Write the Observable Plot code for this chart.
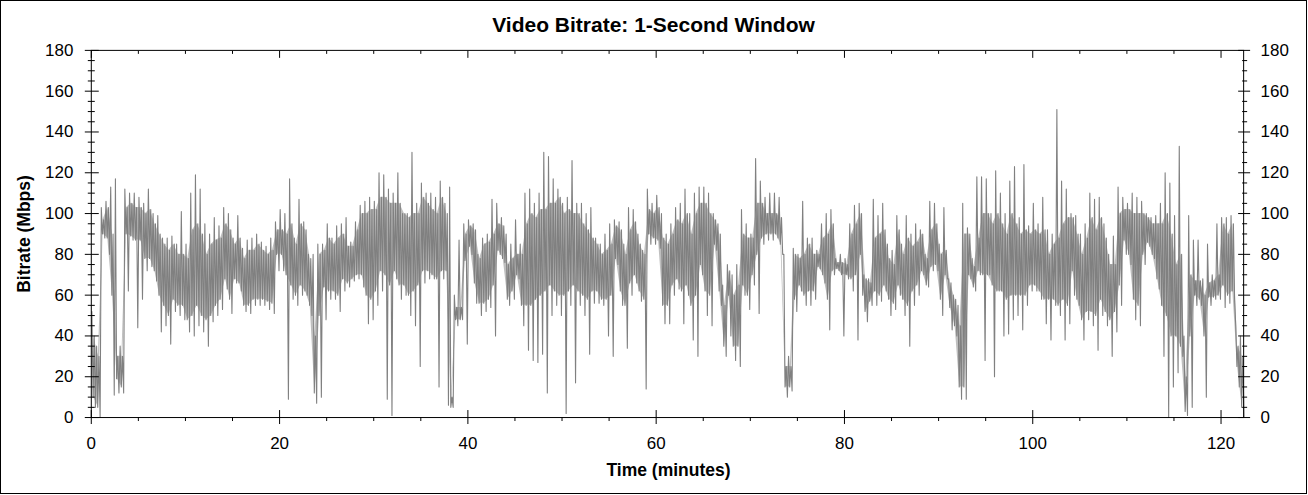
<!DOCTYPE html>
<html>
<head>
<meta charset="utf-8">
<script src="https://cdn.jsdelivr.net/npm/d3@7"></script>
<script src="https://cdn.jsdelivr.net/npm/@observablehq/plot@0.6"></script>
<style>
  html, body { margin: 0; padding: 0; background: #fff; }
  #chart {
    position: relative;
    width: 1307px;
    height: 494px;
    border: 1px solid #000;
    box-sizing: border-box;
    font-family: "Liberation Sans", Arial, sans-serif;
    color: #000;
  }
  #chart svg { position: absolute; left: -1px; top: -1px; }
  .title {
    position: absolute; left: 0; width: 100%; top: 12px;
    text-align: center; font-weight: bold; font-size: 21px; line-height: 24px;
  }
  .xlabel {
    position: absolute; left: 90px; width: 1155px; top: 459px;
    text-align: center; font-weight: bold; font-size: 17.5px; line-height: 20px;
  }
  .ylabel {
    position: absolute; left: 23px; top: 233px; width: 0; height: 0;
  }
  .ylabel span {
    position: absolute; transform: translate(-50%, -50%) rotate(-90deg);
    white-space: nowrap; font-weight: bold; font-size: 17.5px; line-height: 20px;
  }
</style>
</head>
<body>
<div id="chart">
  <div class="title">Video Bitrate: 1-Second Window</div>
  <div class="xlabel">Time (minutes)</div>
  <div class="ylabel"><span>Bitrate (Mbps)</span></div>
</div>
<script>
// video bitrate in half-minute bins (Mbps)
let binMinutes = 0.5;

// highest and lowest spikes in each bin
let hiMbps = [
  52,35,103,106,113,117,35,112,110,110,108,105,112,100,99,88,88,89,85,101,
  85,110,119,112,95,90,98,94,103,100,88,99,83,87,88,90,86,84,88,96,
  102,100,117,88,107,96,80,80,85,85,95,88,94,95,98,86,96,104,106,108,
  106,120,119,112,110,120,100,100,130,105,115,110,110,108,116,105,113,60,87,95,
  97,95,80,88,90,107,105,98,90,85,97,85,110,112,105,110,130,128,117,112,
  105,108,126,105,105,100,103,88,85,90,95,97,96,85,103,102,90,82,112,105,
  109,100,90,95,103,105,112,100,110,113,113,110,100,95,65,75,70,75,102,95,
  90,127,116,108,110,110,108,80,30,83,80,106,88,88,82,95,100,102,78,80,
  78,95,104,105,70,68,107,99,105,85,82,99,85,99,90,95,92,80,106,105,
  85,103,68,60,55,105,93,78,118,118,117,100,121,110,100,116,123,98,124,94,
  105,95,108,92,90,151,116,112,100,99,90,95,110,107,108,95,80,89,113,108,
  105,110,108,106,100,98,99,105,120,115,99,133,40,99,87,87,68,85,70,95,
  98,98,99,45,40
];
let loMbps = [
  5,0,88,80,11,12,12,62,87,44,58,72,74,67,42,45,36,52,50,48,
  42,40,45,42,35,47,50,53,63,51,66,62,52,51,55,55,55,53,51,72,
  72,9,58,55,60,60,50,7,10,48,58,58,52,62,64,67,68,64,46,48,
  55,62,9,1,68,58,60,50,45,25,66,68,68,15,68,6,5,45,48,36,
  80,56,50,52,54,40,80,76,55,58,68,45,33,28,27,31,12,50,55,50,
  2,55,17,55,50,31,56,56,55,40,30,75,55,34,60,66,57,14,85,85,
  83,46,46,60,63,46,60,38,30,70,50,45,82,55,30,40,28,25,60,53,
  65,51,85,87,87,88,80,10,13,52,62,55,55,58,73,66,43,70,72,40,
  68,62,38,60,47,55,55,57,62,50,53,60,50,35,55,60,70,64,72,72,
  50,68,43,40,9,9,68,62,70,28,70,20,62,40,41,48,50,43,55,62,
  62,58,46,38,55,50,38,46,60,55,38,48,45,33,50,45,30,42,55,80,
  75,48,45,75,84,78,63,30,0,15,22,30,1,5,55,55,10,55,58,58,
  54,56,58,15,0
];

// top and bottom of the dense core of each bin
let coreHiMbps = [
  40,30,97,103,90,30,30,103,105,103,103,100,102,95,90,85,82,85,80,80,
  78,92,95,90,80,85,87,88,95,92,85,88,78,82,82,85,82,80,82,92,
  92,90,95,85,95,92,78,40,80,82,88,85,88,90,84,84,92,100,100,102,
  102,108,108,105,105,105,100,98,100,100,108,105,102,100,108,100,10,54,54,90,
  94,92,78,85,86,90,95,94,75,78,80,80,95,100,98,102,102,105,105,108,
  100,102,100,100,95,92,88,85,80,82,85,94,92,80,92,96,85,80,102,100,
  103,88,85,90,97,95,100,90,100,105,105,100,97,90,55,72,60,65,90,88,
  88,105,105,100,100,100,98,25,25,80,78,80,85,80,80,88,90,95,76,76,
  75,90,95,100,68,66,88,90,92,78,75,92,80,88,84,86,90,78,92,95,
  80,82,66,58,45,90,90,74,88,100,100,95,100,95,90,100,95,90,92,90,
  92,90,92,80,85,88,95,98,98,90,80,88,98,92,98,88,75,75,100,102,
  102,100,100,100,98,95,95,95,100,90,75,80,20,70,67,67,60,66,67,70,
  95,90,95,35,30
];
let coreLoMbps = [
  10,5,90,88,60,19,15,90,89,87,87,78,78,72,60,55,50,58,55,55,
  48,50,55,50,48,50,55,58,68,58,68,66,55,55,58,58,58,57,56,80,
  80,70,65,60,65,62,55,12,50,64,62,62,60,68,66,68,70,70,60,58,
  62,72,70,65,72,65,65,60,62,65,72,72,70,68,72,72,5,48,48,77,
  84,66,56,56,58,65,82,78,58,62,70,55,55,55,58,60,62,65,62,60,
  60,62,65,62,60,58,62,62,58,58,60,78,62,55,66,70,62,58,90,88,
  87,55,55,65,68,62,65,55,60,75,62,60,85,62,35,60,35,35,65,60,
  70,80,88,90,90,90,85,15,15,58,65,60,62,62,74,70,58,72,73,70,
  70,68,70,80,52,57,62,60,65,58,56,65,58,55,62,65,72,65,74,75,
  58,70,54,45,15,15,70,64,72,70,70,65,62,62,58,60,60,60,60,65,
  65,62,58,58,58,55,58,55,72,58,48,52,52,50,58,52,48,52,65,87,
  80,58,55,80,86,80,68,55,50,40,40,35,3,40,60,58,40,59,59,60,
  65,60,62,25,5
];

// axis ticks
let xMajor = [0, 20, 40, 60, 80, 100, 120];
let xMinor = [5, 10, 15, 25, 30, 35, 45, 50, 55, 65, 70, 75, 85, 90, 95, 105, 110, 115];
let yMajor = [0, 20, 40, 60, 80, 100, 120, 140, 160, 180];
let yMinor = [5, 10, 15, 25, 30, 35, 45, 50, 55, 65, 70, 75, 85, 90, 95,
  105, 110, 115, 125, 130, 135, 145, 150, 155, 165, 170, 175];

// core band, one row per bin
let core = coreHiMbps.map((h, i) => ({ t: i * binMinutes + binMinutes / 2, hi: h, lo: coreLoMbps[i] }));

// the trace swings through each bin: spike up, core, spike down
let series = [];
hiMbps.forEach((h, i) => {
  let t0 = i * binMinutes;
  series.push({ t: t0 + binMinutes * 0.125, v: h });
  series.push({ t: t0 + binMinutes * 0.375, v: coreLoMbps[i] });
  series.push({ t: t0 + binMinutes * 0.625, v: coreHiMbps[i] });
  series.push({ t: t0 + binMinutes * 0.875, v: loMbps[i] });
});

let blank = () => "";
let font = { fontSize: 17, fontFamily: "Liberation Sans, Arial, sans-serif" };

let chart = Plot.plot({
  width: 1308,
  height: 495,
  marginLeft: 91,
  marginRight: 62,
  marginTop: 50,
  marginBottom: 77,
  x: { domain: [0, 122.4] },
  y: { domain: [0, 180] },
  style: { fontFamily: "Liberation Sans, Arial, sans-serif", color: "#000", background: "transparent" },
  marks: [
    Plot.areaY(core, { x: "t", y1: "lo", y2: "hi", fill: "#8a8a8a", fillOpacity: 0.55 }),
    Plot.line(series, { x: "t", y: "v", stroke: "#808080", strokeWidth: 1.1 }),
    Plot.frame({ stroke: "#000" }),

    // left axis
    Plot.axisY({ anchor: "left", ticks: yMajor, tickSize: 14, insetLeft: 8, tickFormat: blank, label: null }),
    Plot.axisY({ anchor: "left", ticks: yMinor, tickSize: 7, insetLeft: 4, tickFormat: blank, label: null }),
    Plot.axisY({ anchor: "left", ticks: yMajor, tickSize: 0, tickPadding: 18, label: null, ...font }),

    // right axis
    Plot.axisY({ anchor: "right", ticks: yMajor, tickSize: 12, insetRight: 6, tickFormat: blank, label: null }),
    Plot.axisY({ anchor: "right", ticks: yMinor, tickSize: 5, insetRight: 2, tickFormat: blank, label: null }),
    Plot.axisY({ anchor: "right", ticks: yMajor, tickSize: 0, tickPadding: 17, label: null, ...font }),

    // bottom axis
    Plot.axisX({ anchor: "bottom", ticks: xMajor, tickSize: 14, insetBottom: 7, tickFormat: blank, label: null }),
    Plot.axisX({ anchor: "bottom", ticks: xMinor, tickSize: 4, tickFormat: blank, label: null }),
    Plot.axisX({ anchor: "bottom", ticks: xMajor, tickSize: 0, tickPadding: 19, label: null, ...font }),

    // top axis, ticks only
    Plot.axisX({ anchor: "top", ticks: xMajor, tickSize: 7, insetTop: 7, tickFormat: blank, label: null }),
    Plot.axisX({ anchor: "top", ticks: xMinor, tickSize: 3, insetTop: 3, tickFormat: blank, label: null })
  ]
});

document.getElementById("chart").append(chart);
</script>
</body>
</html>
